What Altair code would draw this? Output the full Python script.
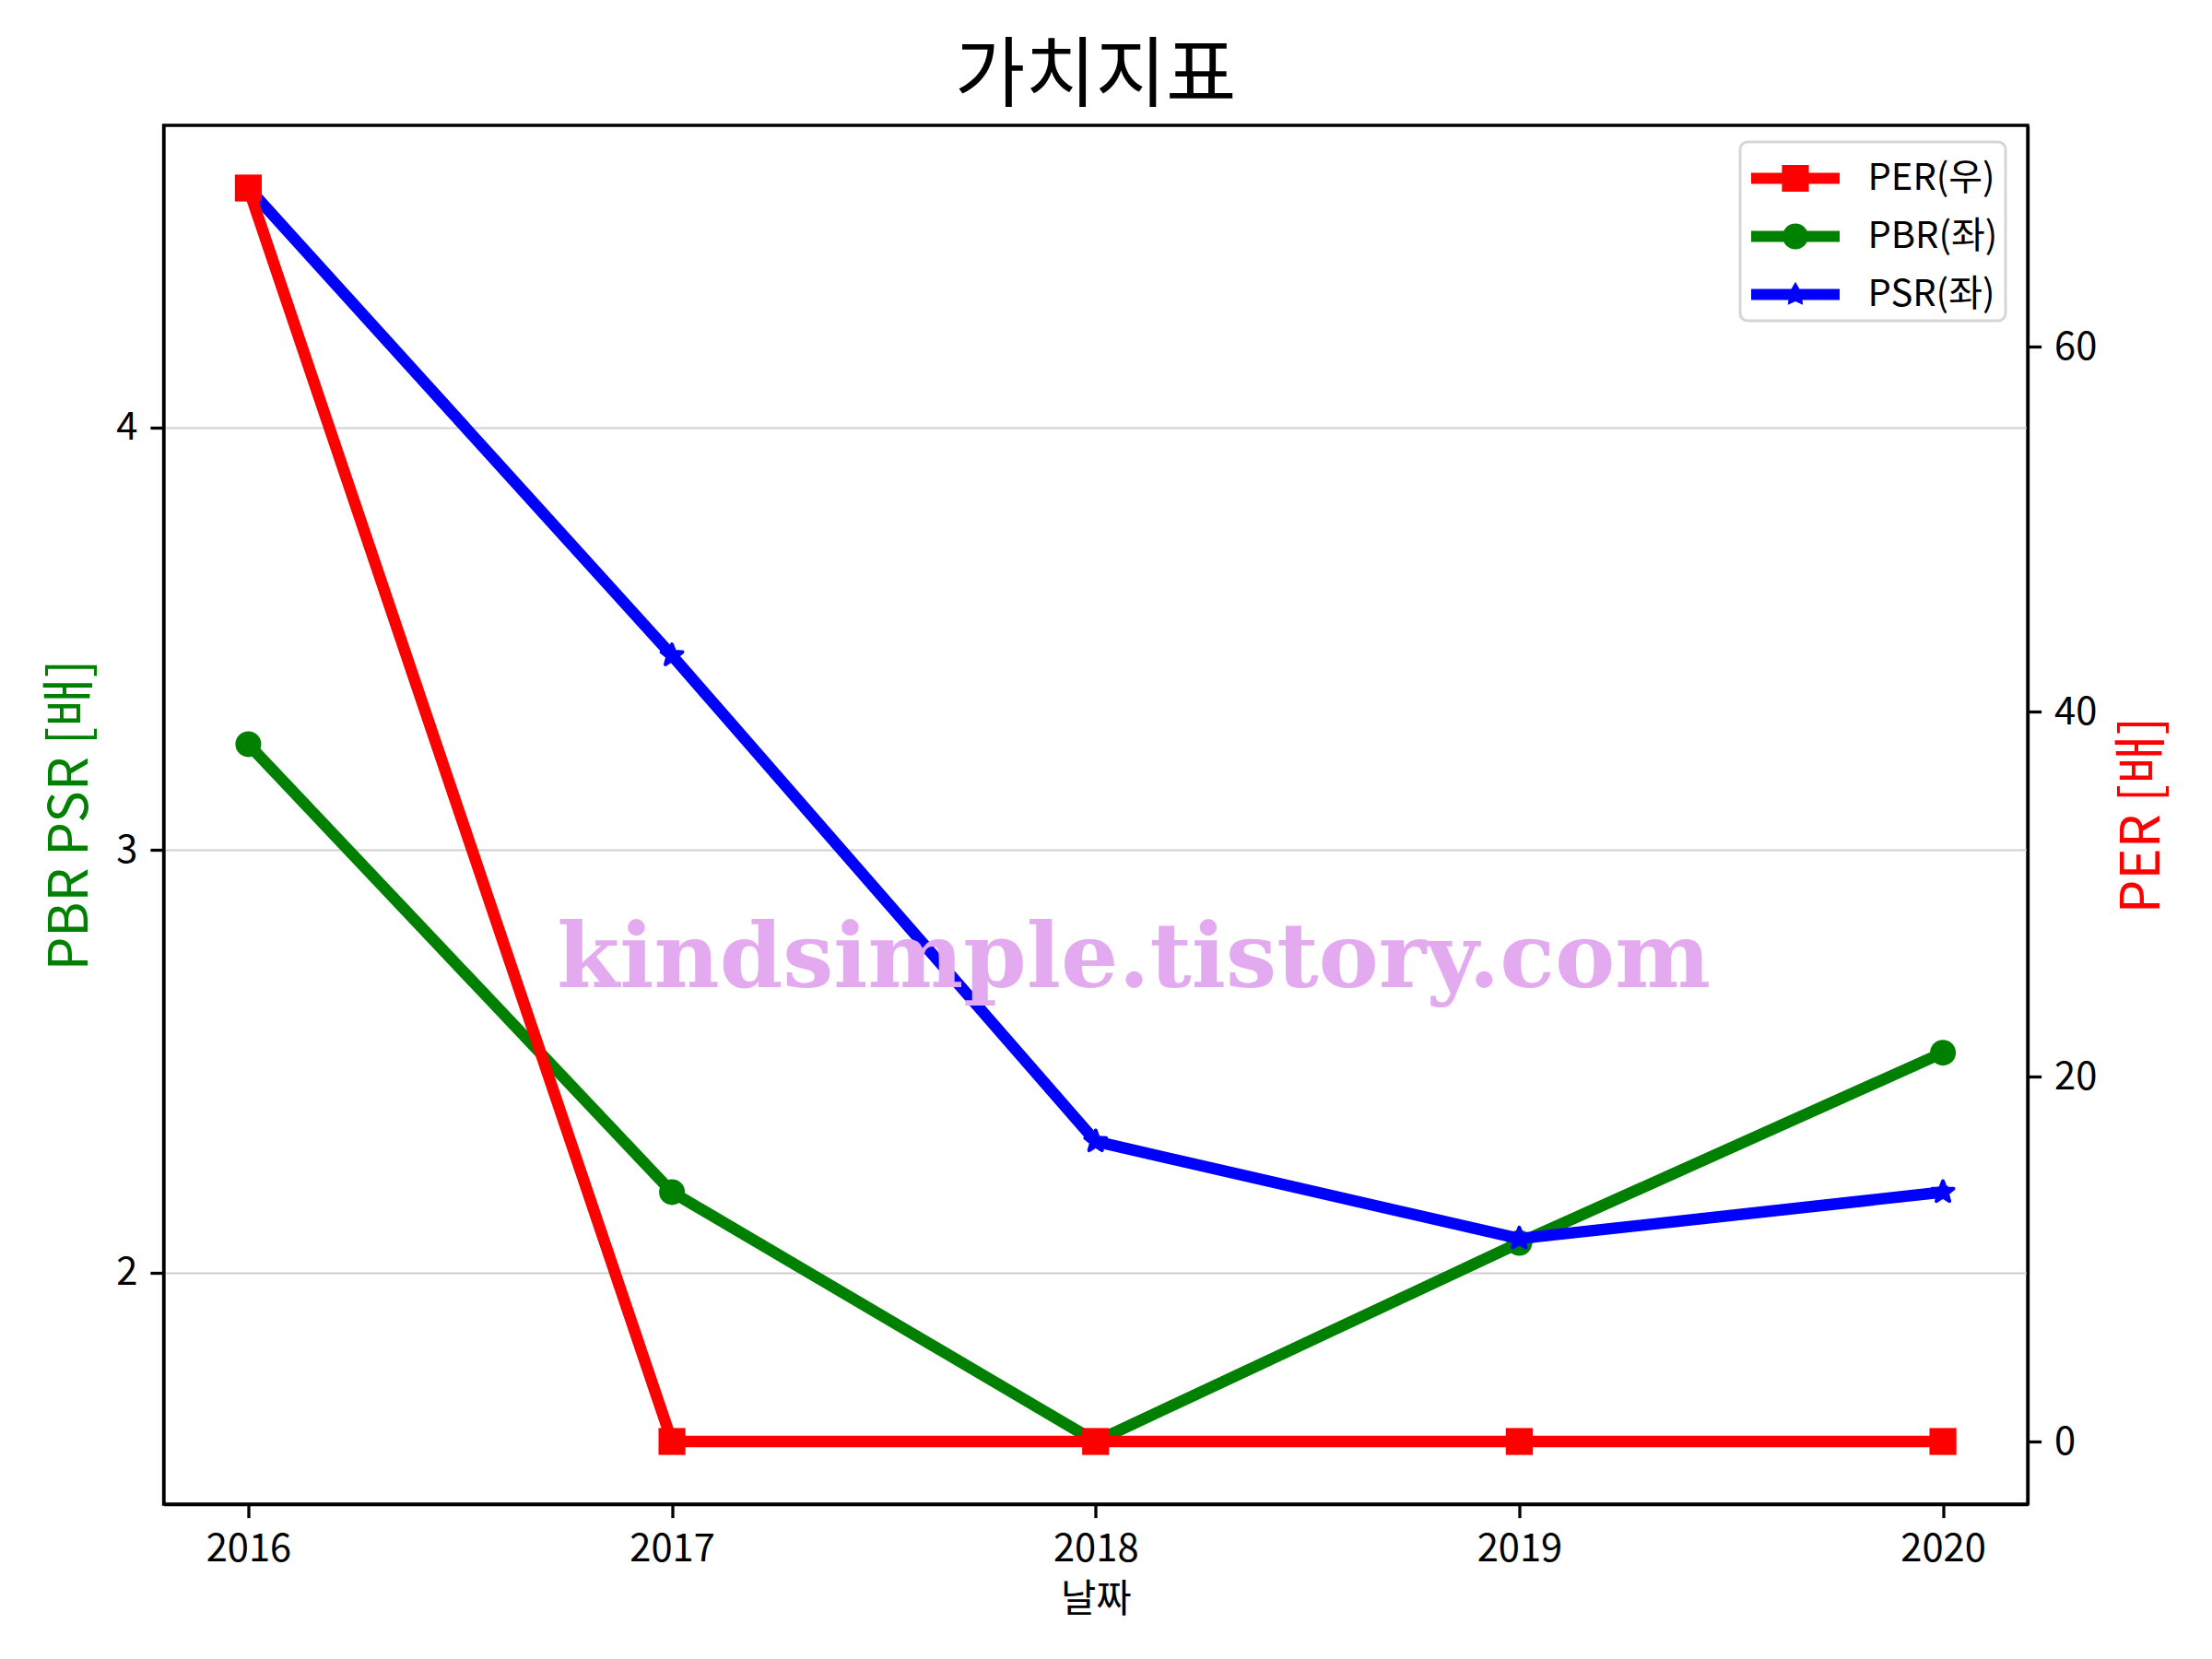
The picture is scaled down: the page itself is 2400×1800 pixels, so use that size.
import math
import altair as alt
import pandas as pd

# ---------------- data ----------------
years = [2016, 2017, 2018, 2019, 2020]
per = [68.7, 0.0, 0.0, 0.0, 0.0]
pbr = [3.25, 2.19, 1.60, 2.07, 2.52]
psr = [4.566, 3.46, 2.31, 2.08, 2.19]

series_names = ["PER(우)", "PBR(좌)", "PSR(좌)"]
series_colors = ["#ff0000", "#008000", "#0000ff"]

title_text = "가치지표"
x_title = "날짜"
left_title = "PBR PSR [배]"
right_title = "PER [배]"
x_ticks = [2016, 2017, 2018, 2019, 2020]
left_ticks = [2, 3, 4]
right_ticks = [0, 20, 40, 60]
watermark_text = "kindsimple.tistory.com"
watermark_x = [2018.09]
watermark_y = [24.9]   # on the PER (right) scale

FONT = "Noto Sans CJK KR"
W, H = 2022.5, 1496


def padded(lo, hi, frac=0.05):
    r = hi - lo
    return [lo - frac * r, hi + frac * r]


x_dom = padded(min(years), max(years))
left_dom = padded(min(pbr + psr), max(pbr + psr))
right_dom = padded(min(per), max(per))

rows = []
for name, vals in zip(series_names, [per, pbr, psr]):
    for yr, v in zip(years, vals):
        rows.append({"year": yr, "series": name, "value": v})
df = pd.DataFrame(rows)
wm_df = pd.DataFrame({"year": watermark_x, "value": watermark_y, "t": [watermark_text]})


# ---------------- symbol paths ----------------
def star_path(R, r):
    pts = []
    for i in range(10):
        ang = -math.pi / 2 + i * math.pi / 5
        rad = R if i % 2 == 0 else r
        pts.append((rad * math.cos(ang), rad * math.sin(ang)))
    return "M" + " L".join(f"{x:.4f},{y:.4f}" for x, y in pts) + " Z"


def rect_path(hx, hy):
    return f"M{-hx},{-hy} L{hx},{-hy} L{hx},{hy} L{-hx},{hy} Z"


def circle_path(r):
    return f"M{-r},0 A{r},{r},0,1,1,{r},0 A{r},{r},0,1,1,{-r},0 Z"


line_seg = rect_path(1.524, 0.19)
legend_paths = [
    line_seg + " " + rect_path(0.4635, 0.4635),
    line_seg + " " + circle_path(0.444),
    line_seg + " " + star_path(0.44, 0.24),
]
plot_star = star_path(1.0, 0.42)

# ---------------- encodings ----------------
x_enc = alt.X(
    "year:Q",
    scale=alt.Scale(domain=x_dom, nice=False, zero=False),
    axis=alt.Axis(values=x_ticks, format="d", title=x_title, grid=False,
                  labelFlush=False, labelOverlap=False,
                  titleFontSize=41.7, titleX=W / 2, titleY=103,
                  titleBaseline="middle", titleAlign="center"),
)
y_left = alt.Y(
    "value:Q",
    scale=alt.Scale(domain=left_dom, nice=False, zero=False),
    axis=alt.Axis(orient="left", values=left_ticks, format="d", title=left_title,
                  titleColor="#008000", titleFontSize=58, titleX=-100, titleY=H / 2,
                  titleAngle=270, titleBaseline="middle", titleAlign="center",
                  grid=True, gridColor="#d0d0d0", gridWidth=2, labelFlush=False),
)
y_right = alt.Y(
    "value:Q",
    scale=alt.Scale(domain=right_dom, nice=False, zero=False),
    axis=alt.Axis(orient="right", values=right_ticks, format="d", title=right_title,
                  titleColor="#ff0000", titleFontSize=58, titleX=125, titleY=H / 2,
                  titleAngle=270, titleBaseline="middle", titleAlign="center",
                  grid=False, labelFlush=False),
)

base = alt.Chart(df)


def series_layers(name, color, y_enc, shape, size, edge=0):
    sub = base.transform_filter(alt.datum.series == name)
    line = sub.mark_line(color=color, strokeWidth=12.5, strokeJoin="round",
                         strokeCap="square").encode(x=x_enc, y=y_enc)
    pts = sub.mark_point(filled=True, shape=shape, size=size, fill=color, stroke=color,
                         opacity=1, strokeWidth=edge, strokeJoin="round").encode(x=x_enc, y=y_enc)
    return [line, pts]


legend_layer = base.transform_filter("false").mark_point(filled=True).encode(
    x=x_enc,
    y=y_left,
    color=alt.Color("series:N", scale=alt.Scale(domain=series_names, range=series_colors),
                    legend=alt.Legend(title=None)),
    shape=alt.Shape("series:N", scale=alt.Scale(domain=series_names, range=legend_paths),
                    legend=alt.Legend(title=None)),
)

left = alt.layer(
    *series_layers(series_names[1], series_colors[1], y_left, "circle", 784),
    *series_layers(series_names[2], series_colors[2], y_left, plot_star, 576, edge=4),
    legend_layer,
)

watermark = alt.Chart(wm_df).mark_text(
    font="DejaVu Serif", fontWeight="bold", fontSize=98, color="#E4AAF0",
    align="center", baseline="alphabetic",
).encode(x=x_enc, y=y_right, text="t:N")

right = alt.layer(
    *series_layers(series_names[0], series_colors[0], y_right, "square", 853),
    watermark,
)

chart = alt.layer(left, right).resolve_scale(y="independent").properties(
    width=W,
    height=H,
    autosize=alt.AutoSizeParams(type="none"),
    padding={"left": 169.5, "top": 128, "right": 190, "bottom": 150},
    title=alt.TitleParams(title_text, font=FONT, fontSize=83, fontWeight="normal",
                          color="black", anchor="middle", frame="group",
                          offset=30, baseline="alphabetic", dy=86),
).configure_view(
    stroke="black", strokeWidth=3.3
).configure_axis(
    domainColor="black", domainWidth=3.3, tickColor="black", tickWidth=3.3,
    tickSize=14.6, labelFont=FONT, labelFontSize=41.7, labelColor="black",
    labelPadding=14, titleFont=FONT, titleFontWeight="normal",
).configure_legend(
    orient="none", legendX=1710.5, legendY=18, padding=8,
    fillColor="rgba(255,255,255,0.8)", strokeColor="#d6d6d6", strokeWidth=3,
    cornerRadius=8, labelFont=FONT, labelFontSize=40, labelColor="black",
    symbolSize=3969, symbolStrokeWidth=0, symbolOffset=20.5, labelOffset=47,
    rowPadding=11, symbolOpacity=1,
)

chart.save("out.html", embed_options={"renderer": "svg", "actions": False})
